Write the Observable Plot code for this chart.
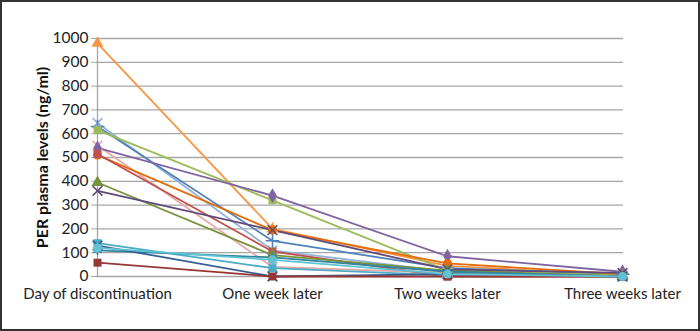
<!DOCTYPE html>
<html>
<head>
<meta charset="utf-8">
<script src="https://cdn.jsdelivr.net/npm/d3@7"></script>
<script src="https://cdn.jsdelivr.net/npm/@observablehq/plot@0.6"></script>
<style>
  html, body { margin: 0; padding: 0; background: #fff; }
  #chart svg { display: block; outline: 2px solid #333; outline-offset: -2px; }
</style>
</head>
<body>
<div id="chart"></div>
<script>
const categories = ["Day of discontinuation", "One week later", "Two weeks later", "Three weeks later"];
const yTicks = [0, 100, 200, 300, 400, 500, 600, 700, 800, 900, 1000];

const seriesNames = ["P1","P2","P3","P4","P5","P6","P7","P8","P9","P10","P11","P12","P13","P14","P15"];
const seriesValues = [
  [980, 200, 45, 5],
  [645, 110, 20, 5],
  [630, 150, 35, 10],
  [615, 320, 25, 5],
  [550, 40, 15, 0],
  [540, 340, 85, 20],
  [510, 195, 55, 10],
  [515, 105, 0, 0],
  [395, 90, 25, 0],
  [360, 195, 30, 15],
  [140, 35, 5, 0],
  [110, 80, 20, 0],
  [130, 0, 10, 0],
  [58, 0, 0, 0],
  [120, 70, 10, 0]
];
const seriesColors = ["#F79646","#95B3D7","#4F81BD","#9BBB59","#E6A9A8","#8064A2","#E46C0A","#C0504D","#77933C","#604A7B","#4BACC6","#31859C","#376092","#953735","#5FC3D6"];
const seriesSymbols = ["triangle","times","plus","square","times","diamond","circle","square","triangle","times","square","asterisk","times","square","circle"];

const rows = [];
seriesNames.forEach((name, i) => {
  seriesValues[i].forEach((v, j) => rows.push({series: name, category: categories[j], value: v, color: seriesColors[i], symbol: seriesSymbols[i]}));
});

const W = 700, H = 331;
const marks = [
  Plot.ruleY(yTicks, {stroke: "#A6A6A6", strokeWidth: 1.3}),
  Plot.axisY({ticks: yTicks, tickFormat: d3.format("d"), tickSize: 5, tickPadding: 3, stroke: "#A6A6A6", fontSize: 15.5, label: null, color: "#222"}),
  Plot.ruleX([categories[0]], {stroke: "#A6A6A6", strokeWidth: 1.3}),
  Plot.axisX({tickSize: 0, tickPadding: 12, fontSize: 15, label: null, color: "#222"}),
  Plot.text(["PER plasma levels (ng/ml)"], {frameAnchor: "left", dx: -54, dy: 0, rotate: -90, fontSize: 16, fontWeight: "bold", fill: "#111", textAnchor: "middle"})
];
seriesNames.forEach((name, i) => {
  const d = rows.filter(r => r.series === name);
  marks.push(Plot.line(d, {x: "category", y: "value", stroke: seriesColors[i], strokeWidth: 1.8}));
});
seriesNames.forEach((name, i) => {
  const d = rows.filter(r => r.series === name);
  const sym = seriesSymbols[i];
  const stroked = ["times","plus","asterisk"].includes(sym);
  marks.push(Plot.dot(d, {x: "category", y: "value", symbol: () => sym, r: 4.5,
    fill: stroked ? "none" : seriesColors[i], stroke: seriesColors[i], strokeWidth: stroked ? 1.6 : 0}));
});

const chart = Plot.plot({
  width: W, height: H,
  marginLeft: 96, marginRight: 77, marginTop: 38, marginBottom: 55,
  style: {fontFamily: "Lato, 'Open Sans', sans-serif", background: "#fff"},
  x: {type: "point", domain: categories, padding: 0},
  y: {domain: [0, 1000]},
  symbol: {type: "identity"},
  marks
});
document.getElementById("chart").appendChild(chart);
</script>
</body>
</html>
